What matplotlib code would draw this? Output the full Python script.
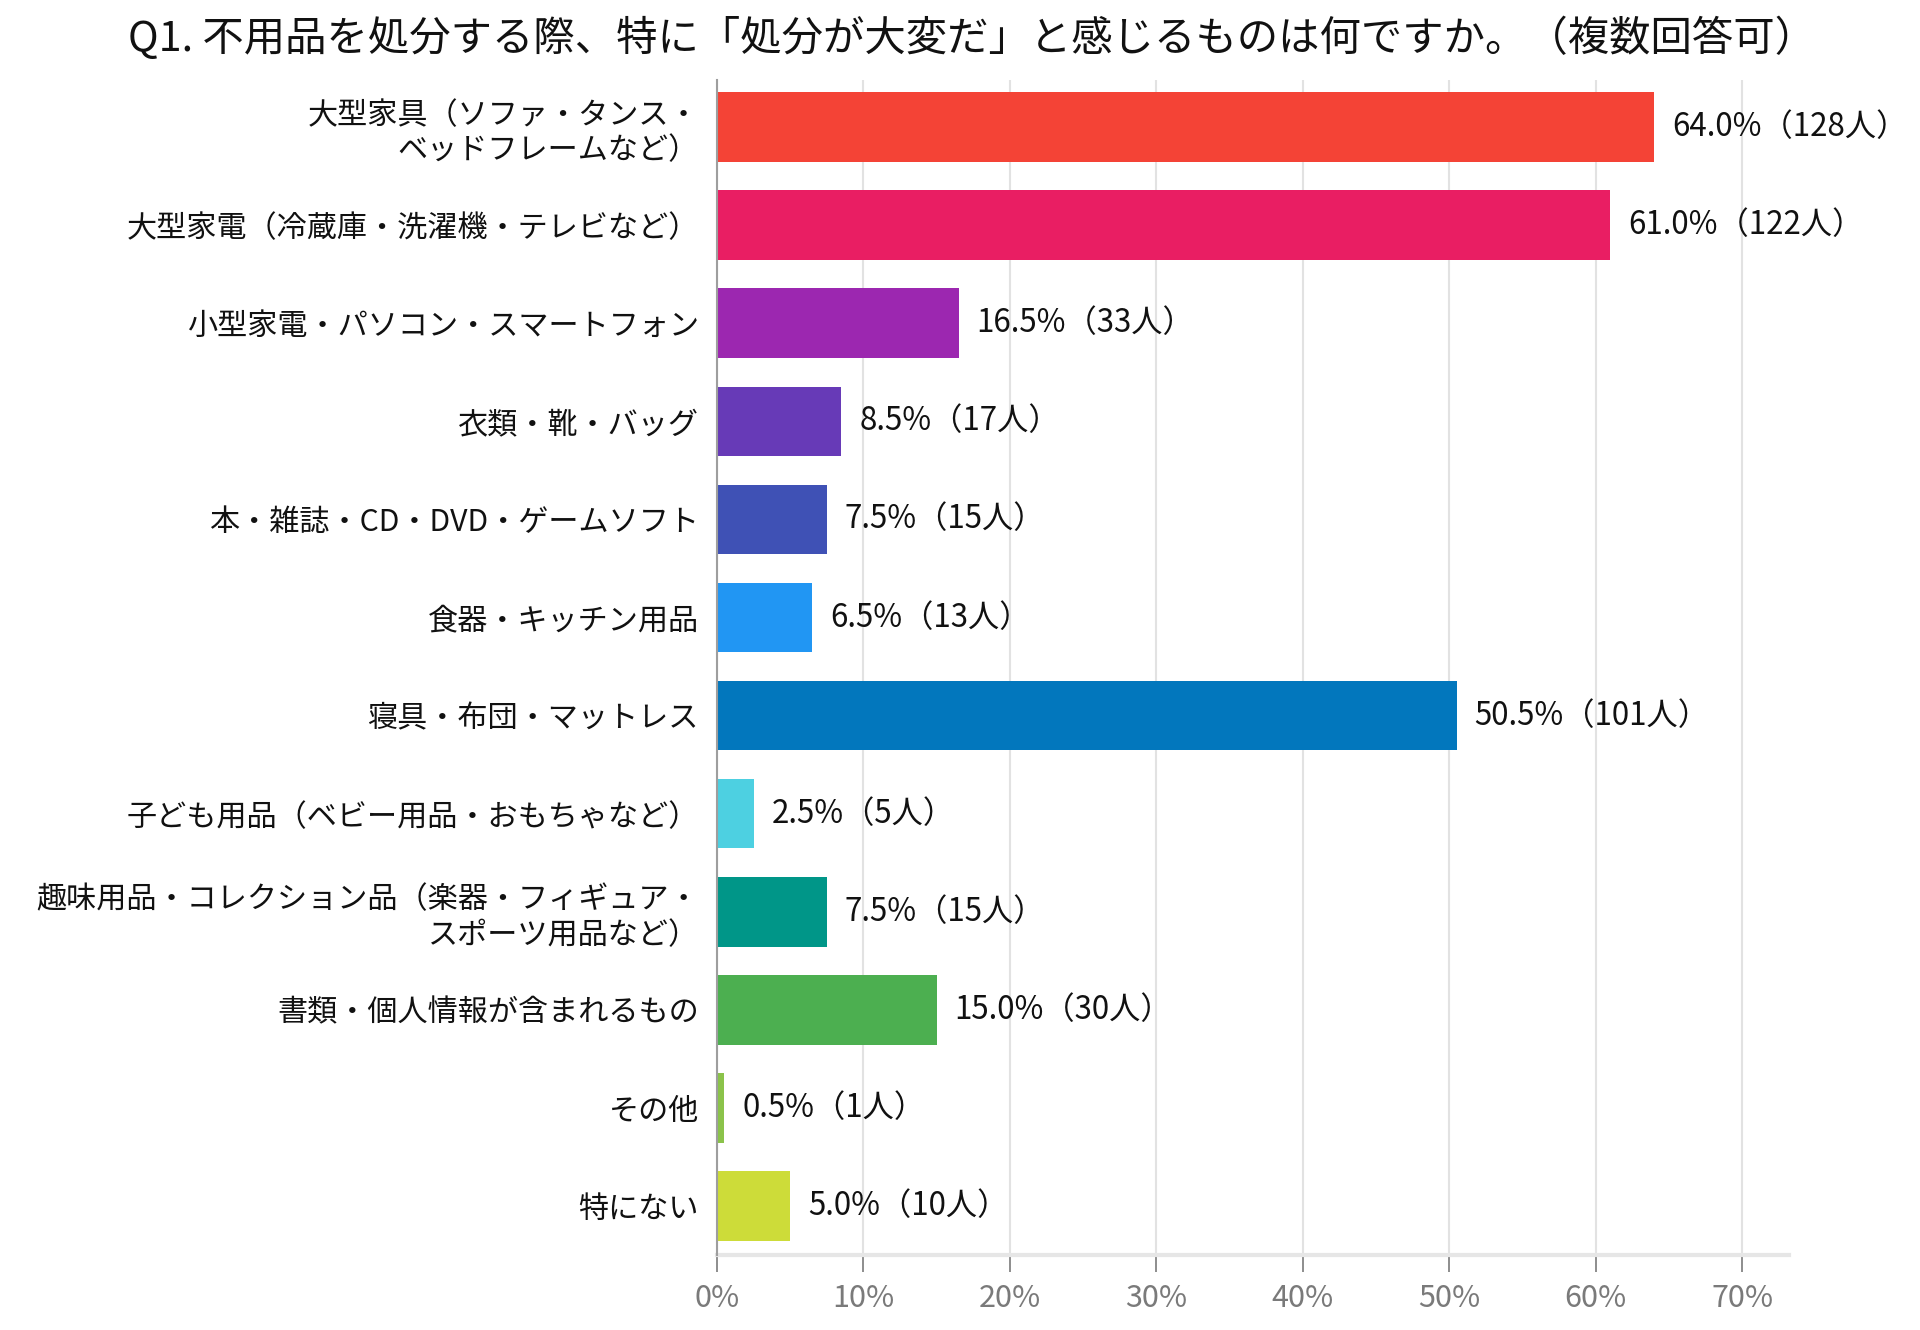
import matplotlib
matplotlib.use("Agg")
import matplotlib.pyplot as plt
import matplotlib.ticker as ticker

plt.rcParams["font.family"] = ["Noto Sans CJK JP", "DejaVu Sans"]

# ── Data ──────────────────────────────────────────────────────────────────────
TITLE = "Q1. 不用品を処分する際、特に「処分が大変だ」と感じるものは何ですか。（複数回答可）"

categories = [
    "大型家具（ソファ・タンス・\nベッドフレームなど）",
    "大型家電（冷蔵庫・洗濯機・テレビなど）",
    "小型家電・パソコン・スマートフォン",
    "衣類・靴・バッグ",
    "本・雑誌・CD・DVD・ゲームソフト",
    "食器・キッチン用品",
    "寝具・布団・マットレス",
    "子ども用品（ベビー用品・おもちゃなど）",
    "趣味用品・コレクション品（楽器・フィギュア・\nスポーツ用品など）",
    "書類・個人情報が含まれるもの",
    "その他",
    "特にない",
]
percents = [64.0, 61.0, 16.5, 8.5, 7.5, 6.5, 50.5, 2.5, 7.5, 15.0, 0.5, 5.0]
counts = [128, 122, 33, 17, 15, 13, 101, 5, 15, 30, 1, 10]
colors = [
    "#F44336", "#E91E63", "#9C27B0", "#673AB7", "#3F51B5", "#2196F3",
    "#0277BD", "#4DD0E1", "#009688", "#4CAF50", "#8BC34A", "#CDDC39",
]
xticks = [0, 10, 20, 30, 40, 50, 60, 70]

# ── Figure ────────────────────────────────────────────────────────────────────
fig = plt.figure(figsize=(19.2, 13.3), dpi=100)
ax = fig.add_axes([0.3734, 0.0564, 0.9318 - 0.3734, 0.9398 - 0.0564])

y = list(range(len(categories)))
ax.barh(y, percents, color=colors, height=0.71, zorder=3)

for yi, p, n in zip(y, percents, counts):
    ax.annotate(f"{p:.1f}%（{n}人）", xy=(p, yi), xytext=(18, 0),
                textcoords="offset pixels", va="center", ha="left",
                fontsize=22.5, color="#111111")

ax.set_yticks(y)
ax.set_yticklabels(categories, fontsize=21.7, color="#111111", ha="right",
                   linespacing=1.2)
ax.tick_params(axis="y", length=0, pad=13)

ax.set_xlim(0, 73.2)
ax.set_ylim(len(categories) - 0.5, -0.48)
ax.set_xticks(xticks)
ax.xaxis.set_major_formatter(ticker.FuncFormatter(lambda v, _: f"{v:.0f}%"))
ax.tick_params(axis="x", labelsize=22, colors="#7a7a7a", length=12,
               width=1.2, pad=8)
for t in ax.get_xticklines():
    t.set_color("#e2e2e2")

ax.grid(axis="x", color="#e2e2e2", linewidth=1.5, zorder=0)
ax.set_axisbelow(True)

for side in ("top", "right"):
    ax.spines[side].set_visible(False)
ax.spines["left"].set_color("#9e9e9e")
ax.spines["left"].set_linewidth(1.5)
ax.spines["left"].set_zorder(4)
ax.spines["bottom"].set_color("#e6e6e6")
ax.spines["bottom"].set_linewidth(3)

fig.text(0.506, 0.971, TITLE, ha="center", va="center", fontsize=29.8,
         color="#111111")

fig.savefig("out.png", dpi=100, facecolor="white")
